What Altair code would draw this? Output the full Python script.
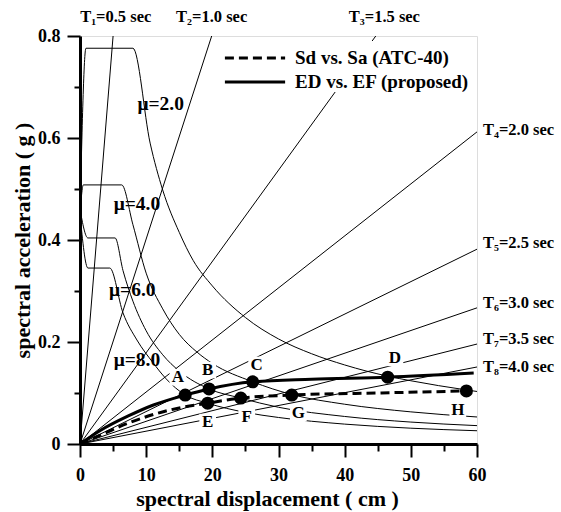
import altair as alt
import pandas as pd

# ---------------- data ----------------
period_names = ["T\u2081=0.5 sec", "T\u2082=1.0 sec", "T\u2083=1.5 sec", "T\u2084=2.0 sec",
                "T\u2085=2.5 sec", "T\u2086=3.0 sec", "T\u2087=3.5 sec", "T\u2088=4.0 sec"]
period_end_sd = [5.0, 19.9, 44.7, 60, 60, 60, 60, 60]
period_end_sa = [0.8, 0.8, 0.8, 0.612, 0.382, 0.267, 0.196, 0.151]

mu_names = ["\u03bc=2.0", "\u03bc=4.0", "\u03bc=6.0", "\u03bc=8.0"]
mu2_sd = [0, 0.9, 8.0, 10.6, 12.5, 15, 17.1, 20, 25, 30, 35, 40, 46.5, 50, 58.4, 60]
mu2_sa = [0.45, 0.776, 0.776, 0.59, 0.498, 0.415, 0.36, 0.31, 0.248, 0.206, 0.177, 0.155, 0.133, 0.124, 0.106, 0.103]
mu4_sd = [0, 0.5, 6.3, 8.0, 10, 12.5, 15, 17.7, 20, 26.1, 32, 40, 50, 60]
mu4_sa = [0.45, 0.508, 0.508, 0.43, 0.335, 0.265, 0.215, 0.18, 0.158, 0.122, 0.097, 0.078, 0.063, 0.053]
mu6_sd = [0, 1.2, 5.3, 6.5, 8, 10, 12.5, 15, 19.5, 24.3, 30, 40, 50, 60]
mu6_sa = [0.46, 0.404, 0.404, 0.34, 0.28, 0.222, 0.175, 0.143, 0.108, 0.090, 0.072, 0.054, 0.043, 0.036]
mu8_sd = [0, 1.2, 4.5, 6.5, 8.6, 11, 13, 15.9, 19.3, 25, 30, 40, 50, 60]
mu8_sa = [0.45, 0.345, 0.345, 0.257, 0.204, 0.16, 0.128, 0.096, 0.080, 0.062, 0.052, 0.039, 0.031, 0.026]

ed_sd = [0, 3, 7.3, 11, 15.9, 19.5, 26.1, 35, 46.5, 59.5]
ed_sa = [0, 0.026, 0.055, 0.076, 0.096, 0.108, 0.122, 0.127, 0.131, 0.139]
atc_sd = [0, 3, 7.3, 13.7, 19.3, 24.3, 32, 45, 58.4]
atc_sa = [0, 0.017, 0.041, 0.067, 0.080, 0.090, 0.096, 0.100, 0.104]

pt_names = ["A", "B", "C", "D", "E", "F", "G", "H"]
pt_sd = [15.9, 19.5, 26.1, 46.5, 19.3, 24.3, 32.0, 58.4]
pt_sa = [0.096, 0.108, 0.122, 0.131, 0.080, 0.090, 0.096, 0.104]

legend_names = ["Sd vs. Sa (ATC-40)", "ED vs. EF (proposed)"]

# ---------------- annotation anchors (data units) ----------------
period_label_sd = [5.4, 19.9, 46.0, 60.9, 60.9, 60.9, 60.9, 60.9]
period_label_sa = [0.837, 0.837, 0.837, 0.616, 0.394, 0.276, 0.206, 0.151]
mu_label_sd = [12.2, 8.6, 7.9, 8.6]
mu_label_sa = [0.667, 0.471, 0.302, 0.165]
pt_label_sd = [14.8, 19.3, 26.7, 47.6, 19.3, 25.2, 33.0, 57.1]
pt_label_sa = [0.131, 0.145, 0.155, 0.169, 0.043, 0.053, 0.061, 0.067]
legend_sd0, legend_sd1, legend_text_sd = 21.9, 31.0, 32.5
legend_sa = [0.757, 0.710]
legend_box = dict(sd=21.0, sd2=59.5, sa=0.69, sa2=0.79)

FONT = "Liberation Serif"

# ---------------- tables ----------------
rows = []
for n, s, a in zip(period_names, period_end_sd, period_end_sa):
    rows += [{"sd": 0, "sa": 0, "curve": n}, {"sd": s, "sa": a, "curve": n}]
period_df = pd.DataFrame(rows)

rows = []
for n, sds, sas in zip(mu_names, [mu2_sd, mu4_sd, mu6_sd, mu8_sd], [mu2_sa, mu4_sa, mu6_sa, mu8_sa]):
    for s, a in zip(sds, sas):
        rows.append({"sd": s, "sa": a, "curve": n})
mu_df = pd.DataFrame(rows)

ed_df = pd.DataFrame({"sd": ed_sd, "sa": ed_sa})
atc_df = pd.DataFrame({"sd": atc_sd, "sa": atc_sa})
pt_df = pd.DataFrame({"sd": pt_sd, "sa": pt_sa, "name": pt_names})
ptlab_df = pd.DataFrame({"sd": pt_label_sd, "sa": pt_label_sa, "name": pt_names})
plab_df = pd.DataFrame({"sd": period_label_sd, "sa": period_label_sa, "name": period_names})
mulab_df = pd.DataFrame({"sd": mu_label_sd, "sa": mu_label_sa, "name": mu_names})
leg_atc = pd.DataFrame({"sd": [legend_sd0, legend_sd1], "sa": [legend_sa[0]] * 2})
leg_ed = pd.DataFrame({"sd": [legend_sd0, legend_sd1], "sa": [legend_sa[1]] * 2})
leg_txt = pd.DataFrame({"sd": [legend_text_sd] * 2, "sa": legend_sa, "name": legend_names})
box_df = pd.DataFrame([legend_box])

# ---------------- encodings ----------------
xaxis = alt.Axis(
    values=list(range(0, 61, 5)),
    tickSize={"condition": {"test": "datum.value % 10 === 0", "value": 13}, "value": 7},
    labelExpr="datum.value % 10 === 0 ? datum.label : ''",
    grid=False, domainWidth=3, tickWidth=2, domainColor="black", tickColor="black",
    labelFont=FONT, labelFontSize=18, labelFontWeight="bold", labelColor="black", labelPadding=9,
    titleFont=FONT, titleFontSize=22, titleFontWeight="bold", titleColor="black", titlePadding=4,
    titleX=187,
    labelFlush=False, labelOverlap=False,
)
yaxis = alt.Axis(
    values=[0, 0.1, 0.2, 0.3, 0.4, 0.5, 0.6, 0.7, 0.8],
    tickSize={"condition": {"test": "round(datum.value * 10) % 2 === 0", "value": 13}, "value": 6},
    labelExpr="round(datum.value * 10) % 2 === 0 ? (datum.value === 0 ? '0' : format(datum.value, '.1f')) : ''",
    grid=False, domainWidth=3, tickWidth=2, domainColor="black", tickColor="black",
    labelFont=FONT, labelFontSize=18, labelFontWeight="bold", labelColor="black", labelPadding=7,
    titleFont=FONT, titleFontSize=22, titleFontWeight="bold", titleColor="black", titlePadding=3,
    labelFlush=False, labelOverlap=False,
)


def X(field="sd"):
    return alt.X(f"{field}:Q", scale=alt.Scale(domain=[0, 60], nice=False, zero=False),
                 axis=xaxis, title="spectral displacement ( cm )")


def Y(field="sa"):
    return alt.Y(f"{field}:Q", scale=alt.Scale(domain=[0, 0.8], nice=False, zero=False),
                 axis=yaxis, title="spectral acceleration ( g )")


periods = alt.Chart(period_df).mark_line(color="black", strokeWidth=1).encode(
    x=X(), y=Y(), detail="curve:N")
mus = alt.Chart(mu_df).mark_line(color="black", strokeWidth=1, interpolate="monotone").encode(
    x=X(), y=Y(), detail="curve:N", order="sd:Q")
boxes = alt.Chart(ptlab_df).mark_square(color="white", opacity=1, size=280).encode(x=X(), y=Y())
legbox = alt.Chart(box_df).mark_rect(color="white").encode(
    x=X(), x2="sd2:Q", y=Y(), y2="sa2:Q")
atc = alt.Chart(atc_df).mark_line(color="black", strokeWidth=3, strokeDash=[9, 5],
                                  interpolate="monotone").encode(x=X(), y=Y(), order="sd:Q")
ed = alt.Chart(ed_df).mark_line(color="black", strokeWidth=3, interpolate="monotone").encode(
    x=X(), y=Y(), order="sd:Q")
pts = alt.Chart(pt_df).mark_circle(color="black", opacity=1, size=170).encode(x=X(), y=Y())
ptlabs = alt.Chart(ptlab_df).mark_text(font=FONT, fontSize=17, fontWeight="bold", color="black",
                                       baseline="middle", align="center").encode(
    x=X(), y=Y(), text="name:N")
mulabs = alt.Chart(mulab_df).mark_text(font=FONT, fontSize=19.5, fontWeight="bold", color="black",
                                       baseline="middle", align="center").encode(
    x=X(), y=Y(), text="name:N")
plab_top = alt.Chart(plab_df.iloc[:3]).mark_text(font=FONT, fontSize=16.5, fontWeight="bold", color="black",
                                                 baseline="middle", align="center").encode(
    x=X(), y=Y(), text="name:N")
plab_right = alt.Chart(plab_df.iloc[3:]).mark_text(font=FONT, fontSize=16.5, fontWeight="bold", color="black",
                                                   baseline="middle", align="left").encode(
    x=X(), y=Y(), text="name:N")
leg1 = alt.Chart(leg_atc).mark_line(color="black", strokeWidth=3, strokeDash=[9, 5]).encode(x=X(), y=Y())
leg2 = alt.Chart(leg_ed).mark_line(color="black", strokeWidth=3).encode(x=X(), y=Y())
legtxt = alt.Chart(leg_txt).mark_text(font=FONT, fontSize=19, fontWeight="bold", color="black",
                                      baseline="middle", align="left").encode(
    x=X(), y=Y(), text="name:N")

chart = alt.layer(
    periods, mus, legbox, boxes, atc, ed, pts, ptlabs, mulabs, plab_top, plab_right, leg1, leg2, legtxt
).properties(
    width=397, height=408,
    autosize=alt.AutoSizeParams(type="none"),
    padding={"left": 80, "top": 36, "right": 84, "bottom": 68},
).configure_view(
    stroke="black", strokeWidth=3
).configure(background="white")

chart.save("out.html", embed_options={"renderer": "svg", "actions": False})
